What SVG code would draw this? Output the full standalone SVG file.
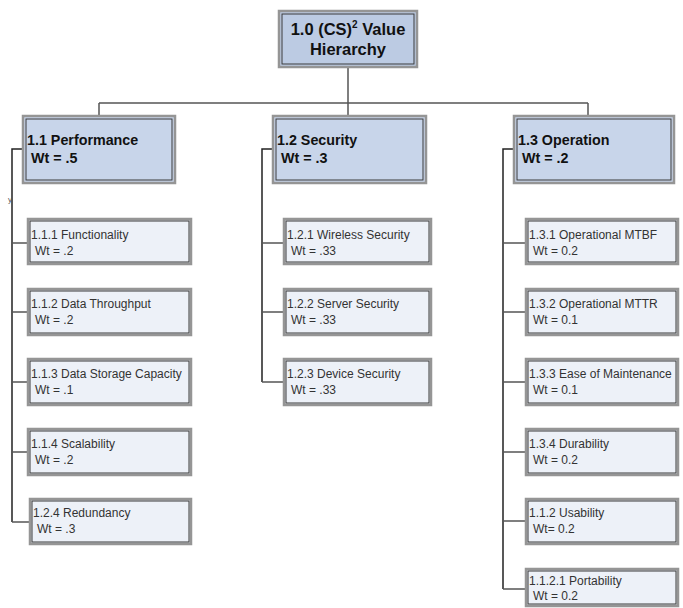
<svg xmlns="http://www.w3.org/2000/svg" width="683" height="608" viewBox="0 0 683 608">
<style>
.bg{fill:#ffffff}
.o{stroke:#959595;stroke-width:2.5}
.i{fill:none;stroke:#3a3a3a;stroke-width:1}
.top{fill:#bccbe3}
.l1{fill:#c8d5ea}
.l2{fill:#edf1f8}
.h{font-family:"Liberation Sans",Arial,sans-serif;font-weight:bold;fill:#111}
.t{font-family:"Liberation Sans",Arial,sans-serif;font-size:12px;fill:#333}
.c{fill:none;stroke:#555;stroke-width:1.5}
.cd{fill:none;stroke:#222;stroke-width:1.5}
</style>
<rect class="bg" x="0" y="0" width="683" height="608"/>
<g id="connectors">
<path class="c" d="M348 68V103M99 103H588M99 103V115M348 103V115M588 103V115"/>
<path class="cd" d="M22 149H12V522"/>
<path class="c" d="M12 243H27M12 312H27M12 382H27M12 452H27M12 522H29"/>
<path class="cd" d="M272 149H262V382"/>
<path class="c" d="M262 243H283M262 312H283M262 382H283"/>
<path class="cd" d="M513 149H503V589"/>
<path class="c" d="M503 243H525M503 312H525M503 382H525M503 452H525M503 521H525M503 589H525"/>
</g>
<g id="n1_0">
<rect class="o top" x="279" y="11" width="138" height="56"/><rect class="i" x="282" y="14" width="132" height="50"/>
<text class="h" font-size="16.5" x="348" y="35" text-anchor="middle">1.0 (CS)<tspan font-size="10" dy="-7">2</tspan><tspan dy="7"> Value</tspan></text>
<text class="h" font-size="16.5" x="348" y="55" text-anchor="middle">Hierarchy</text>
</g>
<g id="n1_1">
<rect class="o l1" x="23" y="116" width="152" height="67"/><rect class="i" x="26" y="119" width="146" height="61"/>
<text class="h" font-size="14.3" x="27" y="145">1.1 Performance</text>
<text class="h" font-size="14.3" x="31" y="163">Wt = .5</text>
</g>
<g id="n1_2">
<rect class="o l1" x="273" y="116" width="153" height="67"/><rect class="i" x="276" y="119" width="147" height="61"/>
<text class="h" font-size="14.3" x="277" y="145">1.2 Security</text>
<text class="h" font-size="14.3" x="281" y="163">Wt = .3</text>
</g>
<g id="n1_3">
<rect class="o l1" x="514" y="116" width="160" height="67"/><rect class="i" x="517" y="119" width="154" height="61"/>
<text class="h" font-size="14.3" x="518" y="145">1.3 Operation</text>
<text class="h" font-size="14.3" x="522" y="163">Wt = .2</text>
</g>
<text x="8" y="202" font-family="Liberation Sans,Arial,sans-serif" font-size="8" fill="#555">y</text>
<g id="n1_1_1"><rect class="o l2" x="28" y="219" width="163" height="45"/><rect class="i" x="30" y="221" width="159" height="41"/>
<text class="t" x="31" y="239">1.1.1 Functionality</text><text class="t" x="35" y="255">Wt = .2</text></g>
<g id="n1_1_2"><rect class="o l2" x="28" y="289" width="163" height="46"/><rect class="i" x="30" y="291" width="159" height="42"/>
<text class="t" x="31" y="308">1.1.2 Data Throughput</text><text class="t" x="35" y="324">Wt = .2</text></g>
<g id="n1_1_3"><rect class="o l2" x="28" y="359" width="163" height="46"/><rect class="i" x="30" y="361" width="159" height="42"/>
<text class="t" x="31" y="378">1.1.3 Data Storage Capacity</text><text class="t" x="35" y="394">Wt = .1</text></g>
<g id="n1_1_4"><rect class="o l2" x="28" y="429" width="163" height="46"/><rect class="i" x="30" y="431" width="159" height="42"/>
<text class="t" x="31" y="448">1.1.4 Scalability</text><text class="t" x="35" y="464">Wt = .2</text></g>
<g id="n1_2_4"><rect class="o l2" x="30" y="499" width="161" height="45"/><rect class="i" x="32" y="501" width="157" height="41"/>
<text class="t" x="33" y="517">1.2.4 Redundancy</text><text class="t" x="37" y="533">Wt = .3</text></g>
<g id="n1_2_1"><rect class="o l2" x="284" y="219" width="147" height="45"/><rect class="i" x="286" y="221" width="143" height="41"/>
<text class="t" x="287" y="239">1.2.1 Wireless Security</text><text class="t" x="291" y="255">Wt = .33</text></g>
<g id="n1_2_2"><rect class="o l2" x="284" y="289" width="147" height="46"/><rect class="i" x="286" y="291" width="143" height="42"/>
<text class="t" x="287" y="308">1.2.2 Server Security</text><text class="t" x="291" y="324">Wt = .33</text></g>
<g id="n1_2_3"><rect class="o l2" x="284" y="359" width="147" height="46"/><rect class="i" x="286" y="361" width="143" height="42"/>
<text class="t" x="287" y="378">1.2.3 Device Security</text><text class="t" x="291" y="394">Wt = .33</text></g>
<g id="n1_3_1"><rect class="o l2" x="526" y="219" width="152" height="45"/><rect class="i" x="528" y="221" width="148" height="41"/>
<text class="t" x="529" y="239">1.3.1 Operational MTBF</text><text class="t" x="533" y="255">Wt = 0.2</text></g>
<g id="n1_3_2"><rect class="o l2" x="526" y="289" width="152" height="46"/><rect class="i" x="528" y="291" width="148" height="42"/>
<text class="t" x="529" y="308">1.3.2 Operational MTTR</text><text class="t" x="533" y="324">Wt = 0.1</text></g>
<g id="n1_3_3"><rect class="o l2" x="526" y="359" width="152" height="46"/><rect class="i" x="528" y="361" width="148" height="42"/>
<text class="t" x="529" y="378">1.3.3 Ease of Maintenance</text><text class="t" x="533" y="394">Wt = 0.1</text></g>
<g id="n1_3_4"><rect class="o l2" x="526" y="429" width="152" height="46"/><rect class="i" x="528" y="431" width="148" height="42"/>
<text class="t" x="529" y="448">1.3.4 Durability</text><text class="t" x="533" y="464">Wt = 0.2</text></g>
<g id="n1_1_2u"><rect class="o l2" x="526" y="499" width="152" height="45"/><rect class="i" x="528" y="501" width="148" height="41"/>
<text class="t" x="529" y="517">1.1.2 Usability</text><text class="t" x="533" y="533">Wt= 0.2</text></g>
<g id="n1_1_2_1"><rect class="o l2" x="526" y="569" width="152" height="37"/><rect class="i" x="528" y="571" width="148" height="33"/>
<text class="t" x="529" y="585">1.1.2.1 Portability</text><text class="t" x="533" y="600">Wt = 0.2</text></g>
</svg>
